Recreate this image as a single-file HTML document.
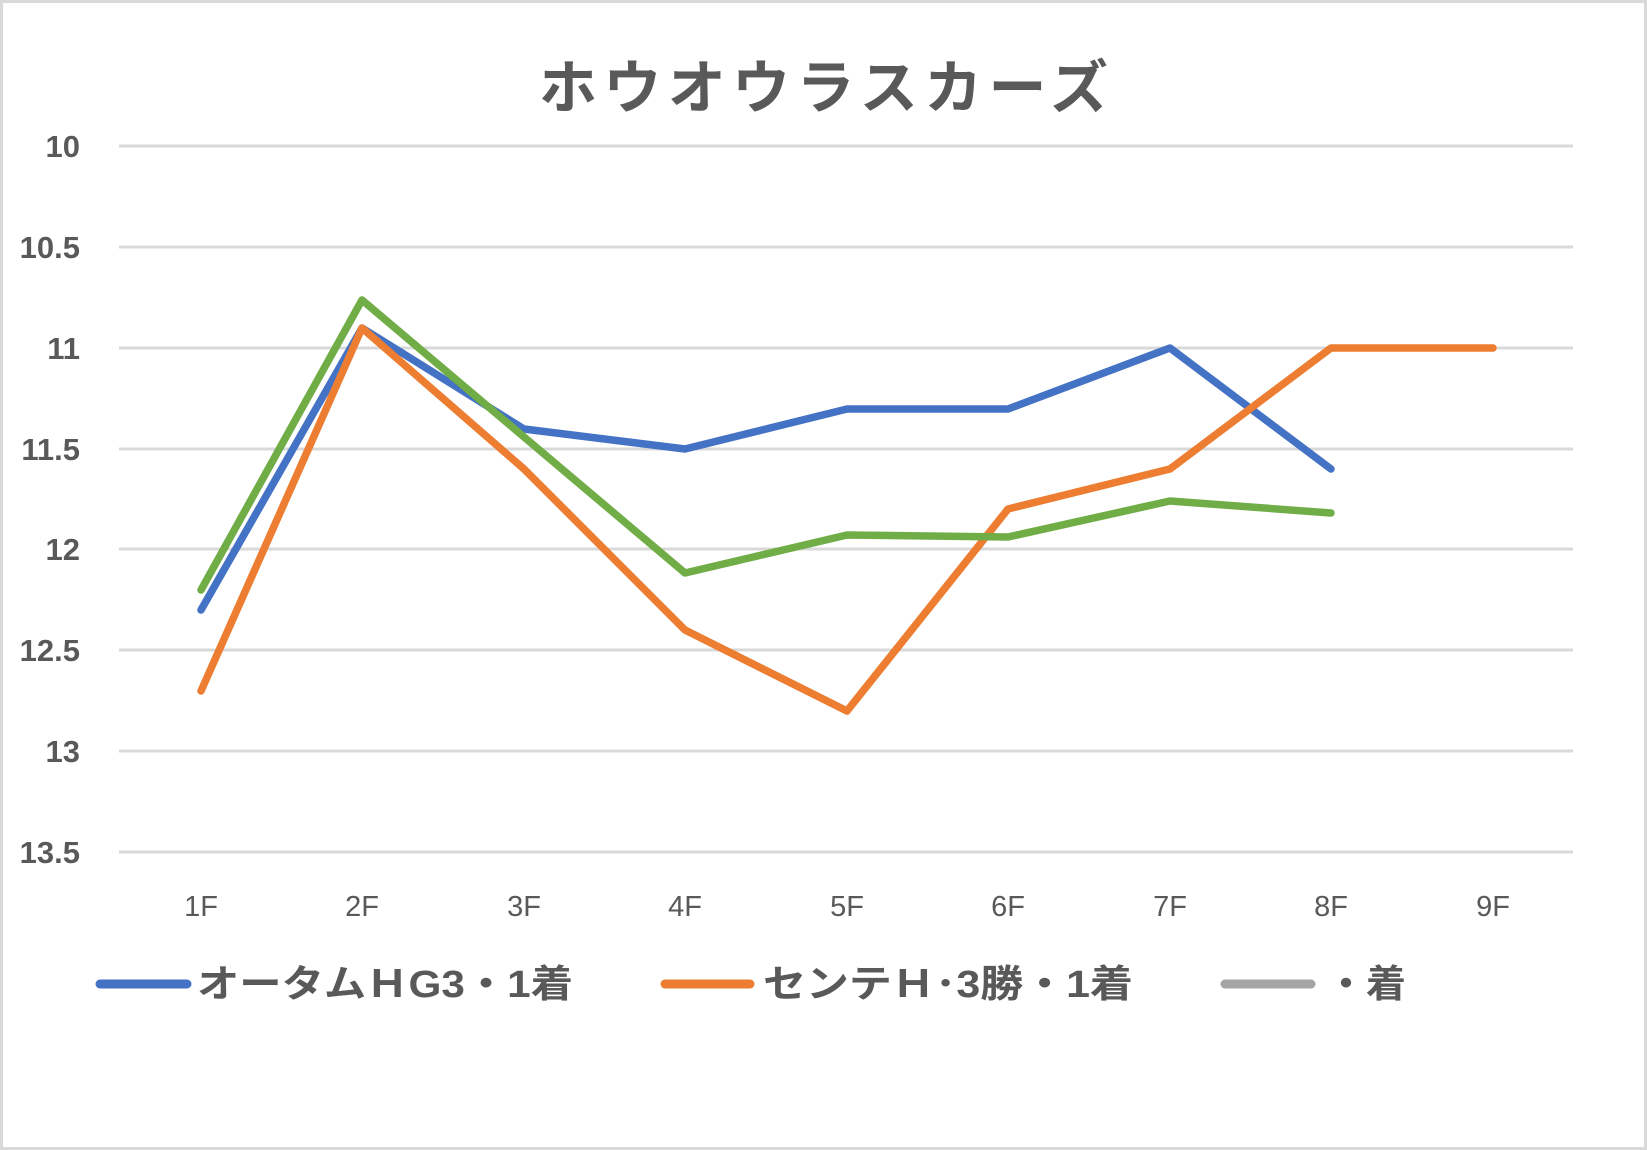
<!DOCTYPE html>
<html><head><meta charset="utf-8"><style>
html,body{margin:0;padding:0;background:#fff}
svg{display:block}
text{font-family:"Liberation Sans","Noto Sans CJK JP",sans-serif;fill:#595959}
</style></head><body>
<svg width="1647" height="1150" viewBox="0 0 1647 1150" xmlns="http://www.w3.org/2000/svg">
<rect x="1.5" y="1.5" width="1644" height="1147" fill="#fff" stroke="#d9d9d9" stroke-width="3"/>
<text x="539" y="108" font-size="58" font-weight="bold" textLength="569" lengthAdjust="spacing">ホウオウラスカーズ</text>
<g stroke="#d9d9d9" stroke-width="3">
<line x1="119" x2="1573" y1="146" y2="146"/>
<line x1="119" x2="1573" y1="247" y2="247"/>
<line x1="119" x2="1573" y1="348" y2="348"/>
<line x1="119" x2="1573" y1="449" y2="449"/>
<line x1="119" x2="1573" y1="549" y2="549"/>
<line x1="119" x2="1573" y1="650" y2="650"/>
<line x1="119" x2="1573" y1="751" y2="751"/>
<line x1="119" x2="1573" y1="852" y2="852"/>
</g>
<g font-size="31" font-weight="bold" text-anchor="end">
<text x="80" y="157">10</text>
<text x="80" y="258">10.5</text>
<text x="80" y="359">11</text>
<text x="80" y="460">11.5</text>
<text x="80" y="560">12</text>
<text x="80" y="661">12.5</text>
<text x="80" y="762">13</text>
<text x="80" y="863">13.5</text>
</g>
<g font-size="29" text-anchor="middle">
<text x="201" y="916">1F</text>
<text x="362" y="916">2F</text>
<text x="524" y="916">3F</text>
<text x="685" y="916">4F</text>
<text x="847" y="916">5F</text>
<text x="1008" y="916">6F</text>
<text x="1170" y="916">7F</text>
<text x="1331" y="916">8F</text>
<text x="1493" y="916">9F</text>
</g>
<g fill="none" stroke-width="7.5" stroke-linecap="round" stroke-linejoin="round">
<polyline stroke="#4472c4" points="201,610 362,328 524,429 685,449 847,409 1008,409 1170,348 1331,469"/>
<polyline stroke="#ed7d31" points="201,691 362,328 524,469 685,630 847,711 1008,509 1170,469 1331,348 1493,348"/>
<polyline stroke="#70ad47" points="201,590 362,300 524,437 685,573 847,535 1008,537 1170,501 1331,513"/>
</g>
<g stroke-width="9" stroke-linecap="round">
<line x1="100" x2="187" y1="984" y2="984" stroke="#4472c4"/>
<line x1="665" x2="750" y1="984" y2="984" stroke="#ed7d31"/>
<line x1="1225" x2="1311" y1="984" y2="984" stroke="#a5a5a5"/>
</g>
<g font-size="38" font-weight="bold">
<text x="197" y="997" textLength="376" lengthAdjust="spacingAndGlyphs">オータムＨG3・1着</text>
<text x="763" y="997" textLength="370" lengthAdjust="spacingAndGlyphs">センテＨ･3勝・1着</text>
<text x="1326" y="997" textLength="80" lengthAdjust="spacingAndGlyphs">・着</text>
</g>
</svg>
</body></html>
